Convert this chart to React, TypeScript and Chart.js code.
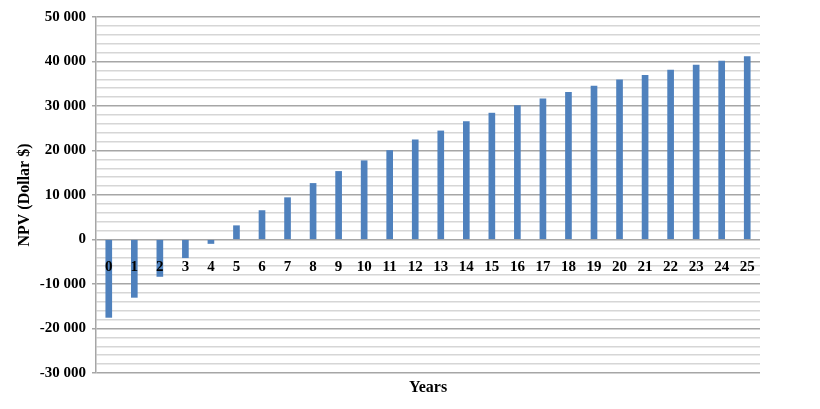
import React, { useEffect, useRef } from "react";
import { Chart, registerables } from "chart.js";

Chart.register(...registerables);

const years: string[] = ["0","1","2","3","4","5","6","7","8","9","10","11","12","13","14","15","16","17","18","19","20","21","22","23","24","25"];
const npv: number[] = [-17500, -13000, -8300, -4100, -900, 3100, 6500, 9400, 12600, 15300, 17700, 20000, 22400, 24400, 26500, 28400, 30100, 31600, 33100, 34500, 35900, 36900, 38100, 39200, 40100, 41100];
const yMin = -30000;
const yMax = 50000;
const yMinorStep = 2000;
const yMajorStep = 10000;

function fmt(v: number): string {
  const s = Math.abs(v).toString();
  const parts: string[] = [];
  for (let i = s.length; i > 0; i -= 3) parts.unshift(s.slice(Math.max(0, i - 3), i));
  return (v < 0 ? "-" : "") + parts.join(" ");
}

export default function App() {
  const ref = useRef<HTMLCanvasElement | null>(null);
  useEffect(() => {
    if (!ref.current) return;
    const font = { family: "'Liberation Serif', 'Times New Roman', serif", weight: "bold" as const, size: 15 };
    const chart = new Chart(ref.current, {
      type: "bar",
      data: {
        labels: years,
        datasets: [
          {
            data: npv,
            backgroundColor: "#4F81BD",
            borderColor: "#4A7BB5",
            borderWidth: 0,
            barThickness: 6,
          },
        ],
      },
      options: {
        responsive: false,
        animation: false,
        layout: { padding: { top: 17, right: 60, bottom: 0, left: 0 } },
        plugins: { legend: { display: false }, tooltip: { enabled: false } },
        scales: {
          x: {
            type: "category",
            position: { y: 0 } as any,
            grid: { display: false, drawTicks: false },
            border: { display: false },
            ticks: { color: "#000", font, padding: 19, maxRotation: 0, autoSkip: false, z: 1 } as any,
          },
          x2: {
            type: "category",
            position: "bottom",
            labels: years,
            grid: { display: false },
            border: { display: false },
            ticks: { display: false },
            title: { display: true, text: "Years", color: "#000", font: { ...font, size: 16 }, padding: { top: 4, bottom: 12 } },
            afterFit: (s: any) => { s.height = 36; },
          },
          y: {
            min: yMin,
            max: yMax,
            border: { display: true, color: "#a6a6a6", width: 1.5 },
            grid: {
              color: (c: any) => (c.tick && c.tick.value % yMajorStep === 0 ? "#a6a6a6" : "#d6d6d6"),
              tickColor: (c: any) => (c.tick && c.tick.value % yMajorStep === 0 ? "#a6a6a6" : "rgba(0,0,0,0)"),
              lineWidth: 1.5,
              tickLength: 4,
            },
            ticks: {
              stepSize: yMinorStep,
              color: "#000",
              font,
              padding: 6,
              autoSkip: false,
              callback: (v: any) => (Number(v) % yMajorStep === 0 ? fmt(Number(v)) : ""),
            },
            title: { display: true, text: "NPV (Dollar $)", color: "#000", font: { ...font, size: 16 }, padding: { top: 15, bottom: 4 } },
            afterFit: (s: any) => { s.width = 96; },
          },
        },
      },
    });
    return () => chart.destroy();
  }, []);
  return (
    <div style={{ position: "absolute", left: 0, top: 0, width: 820, height: 409, background: "#fff" }}>
      <canvas ref={ref} width={820} height={409} />
    </div>
  );
}
